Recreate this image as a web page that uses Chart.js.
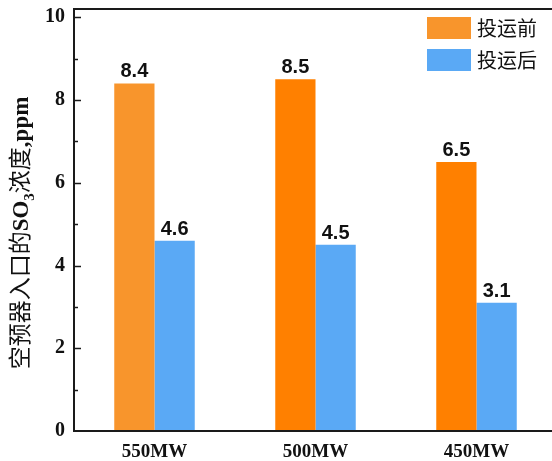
<!DOCTYPE html>
<html>
<head>
<meta charset="utf-8">
<script src="https://cdn.jsdelivr.net/npm/chart.js@4/dist/chart.umd.min.js"></script>
<style>
  html, body { margin: 0; padding: 0; background: #fff; overflow: hidden; }
  #wrap { width: 552px; height: 461px; overflow: hidden; }
  canvas { display: block; }
</style>
</head>
<body>
<div id="wrap"><canvas id="c" width="562" height="461"></canvas></div>
<script>
// Operating load cases
const categories = ['550MW', '500MW', '450MW'];
// SO3 concentration at the air preheater inlet, ppm
const beforeValues = [8.4, 8.5, 6.5];   // 投运前
const afterValues  = [4.6, 4.5, 3.1];   // 投运后
const seriesNames  = ['投运前', '投运后'];
const yTickValues  = [0, 2, 4, 6, 8, 10];

const ORANGE_LIGHT = '#F8952C';
const ORANGE = '#FF8000';
const BLUE = '#5AA9F5';
const AXIS = '#1a1a1a';
const SERIF = '"Liberation Serif", "Times New Roman", serif';
const CJK = '"Noto Sans CJK SC", "Noto Sans", sans-serif';

// Frame, inward tick marks, axis title, value labels and legend
const decorations = {
  id: 'decorations',
  afterDatasetsDraw(chart) {
    const ctx = chart.ctx;
    const a = chart.chartArea;
    const y = chart.scales.y;
    ctx.save();

    // frame: left, bottom, top
    ctx.strokeStyle = AXIS;
    ctx.lineWidth = 2;
    ctx.beginPath();
    ctx.moveTo(a.right + 10, a.top);
    ctx.lineTo(a.left, a.top);
    ctx.lineTo(a.left, a.bottom);
    ctx.lineTo(a.right + 10, a.bottom);
    ctx.stroke();

    // inward ticks on the value axis
    ctx.lineWidth = 1.5;
    for (let v = 1; v <= 10; v += 1) {
      const py = Math.round(y.getPixelForValue(v)) + 0.5;
      const len = (v % 2 === 0) ? 7 : 4;
      ctx.beginPath();
      ctx.moveTo(a.left, py);
      ctx.lineTo(a.left + len, py);
      ctx.stroke();
    }

    // value labels above bars
    ctx.fillStyle = '#111';
    ctx.font = 'bold 20px "Liberation Sans", Arial, sans-serif';
    ctx.textAlign = 'center';
    ctx.textBaseline = 'alphabetic';
    chart.data.datasets.forEach((ds, di) => {
      chart.getDatasetMeta(di).data.forEach((bar, i) => {
        ctx.fillText(ds.data[i].toFixed(1), bar.x, bar.y - 6);
      });
    });

    // legend
    const legendColors = [ORANGE_LIGHT, BLUE];
    ctx.font = '20px ' + CJK;
    ctx.textAlign = 'left';
    ctx.textBaseline = 'middle';
    seriesNames.forEach((name, i) => {
      const top = 17 + i * 32;
      ctx.fillStyle = legendColors[i];
      ctx.fillRect(427, top, 44, 22);
      ctx.fillStyle = '#111';
      ctx.fillText(name, 477, top + 11);
    });

    // rotated value-axis title with subscript
    ctx.translate(20, 233);
    ctx.rotate(-Math.PI / 2);
    const parts = [
      { t: '空预器入口的', f: '23px ' + CJK, dy: 0 },
      { t: 'SO', f: 'bold 23px ' + SERIF, dy: 0 },
      { t: '3', f: 'bold 15px ' + SERIF, dy: 6 },
      { t: '浓度', f: '23px ' + CJK, dy: 0 },
      { t: ',ppm', f: 'bold 23px ' + SERIF, dy: 0 }
    ];
    let total = 0;
    parts.forEach(p => { ctx.font = p.f; p.w = ctx.measureText(p.t).width; total += p.w; });
    let x = -total / 2;
    ctx.fillStyle = '#111';
    ctx.textBaseline = 'alphabetic';
    parts.forEach(p => {
      ctx.font = p.f;
      ctx.fillText(p.t, x, 8 + p.dy);
      x += p.w;
    });
    ctx.restore();
  }
};

new Chart(document.getElementById('c'), {
  type: 'bar',
  data: {
    labels: categories,
    datasets: [
      {
        label: seriesNames[0],
        data: beforeValues,
        backgroundColor: [ORANGE_LIGHT, ORANGE, ORANGE],
        categoryPercentage: 0.5,
        barPercentage: 1.0
      },
      {
        label: seriesNames[1],
        data: afterValues,
        backgroundColor: BLUE,
        categoryPercentage: 0.5,
        barPercentage: 1.0
      }
    ]
  },
  options: {
    responsive: false,
    animation: false,
    devicePixelRatio: 1,
    layout: { padding: { top: 9, right: 5, left: 0, bottom: 0 } },
    plugins: { legend: { display: false }, tooltip: { enabled: false } },
    scales: {
      x: {
        grid: { display: false, drawTicks: false },
        border: { display: false },
        ticks: { color: '#111', font: { family: SERIF, size: 19, weight: 'bold' }, padding: 10 },
        afterFit(s) { s.height = 30; s.paddingLeft = 0; s.paddingRight = 0; }
      },
      y: {
        min: 0,
        max: 10.2,
        grid: { display: false, drawTicks: false },
        border: { display: false },
        afterBuildTicks(s) { s.ticks = yTickValues.map(v => ({ value: v })); },
        ticks: { color: '#111', font: { family: SERIF, size: 20, weight: 'bold' }, padding: 9 },
        afterFit(s) { s.width = 74; s.paddingTop = 0; s.paddingBottom = 0; }
      }
    }
  },
  plugins: [decorations]
});
</script>
</body>
</html>
